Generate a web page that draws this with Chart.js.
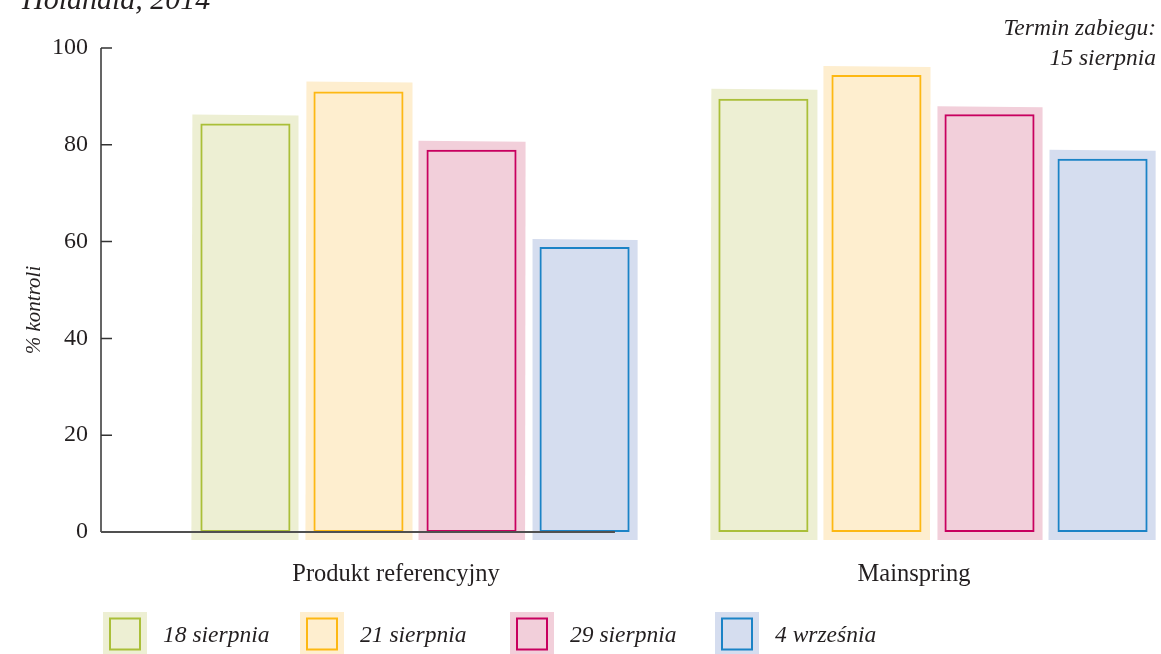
<!DOCTYPE html>
<html>
<head>
<meta charset="utf-8">
<script src="https://cdn.jsdelivr.net/npm/chart.js@4.4.1/dist/chart.umd.min.js"></script>
<style>
  body { margin: 0; background: #fff; }
  #wrap { width: 1161px; height: 654px; position: relative; }
</style>
</head>
<body>
<div id="wrap"><canvas id="myChart"></canvas></div>
<script>
// data
const groups = ['Produkt referencyjny', 'Mainspring'];
const seriesNames = ['18 sierpnia', '21 sierpnia', '29 sierpnia', '4 września'];
const sierpnia18 = [84.4, 89.5];
const sierpnia21 = [91.0, 94.4];
const sierpnia29 = [79.0, 86.3];
const wrzesnia4 = [58.9, 77.1];
const yTicks = [0, 20, 40, 60, 80, 100];

const series = [sierpnia18, sierpnia21, sierpnia29, wrzesnia4];
const lineColors = ['#aabf38', '#fdb813', '#c8005f', '#1b83c6'];
const fillColors = ['#edefd3', '#feeecf', '#f2cfda', '#d5ddef'];
const textColor = '#231f20';
const serif = 'Liberation Serif';

// slightly uneven "hand painted" backdrop offsets: [tlx, tly, trx, try, brx, bry, blx, bly]
const rough = [
  [-8, -9, 8, -8, 8, 8, -9, 8],
  [-7, -10, 9, -9, 9, 8, -8, 8],
  [-8, -9, 9, -8, 8.5, 8, -8, 8],
  [-7, -8, 8, -7, 8, 8, -7, 8]
];

const backdrop = {
  id: 'backdrop',
  beforeDatasetsDraw(chart) {
    const ctx = chart.ctx;
    chart.data.datasets.forEach((ds, i) => {
      const meta = chart.getDatasetMeta(i);
      meta.data.forEach((bar, j) => {
        const r = rough[(i + j) % rough.length];
        const l = bar.x - bar.width / 2, rt = bar.x + bar.width / 2;
        ctx.save();
        ctx.fillStyle = fillColors[i];
        ctx.beginPath();
        ctx.moveTo(l + r[0], bar.y + r[1]);
        ctx.lineTo(rt + r[2], bar.y + r[3]);
        ctx.lineTo(rt + r[4], bar.base + r[5]);
        ctx.lineTo(l + r[6], bar.base + r[7]);
        ctx.closePath();
        ctx.fill();
        ctx.restore();
      });
    });
  }
};

// axis end along x, in x-scale units (the base line stops under the first group)
const axisEnd = 0.386;

const axes = {
  id: 'axes',
  afterDatasetsDraw(chart) {
    const ctx = chart.ctx, area = chart.chartArea;
    const ys = chart.scales.y, xs = chart.scales.x;
    ctx.save();
    ctx.strokeStyle = '#333';
    ctx.lineWidth = 1.5;
    ctx.beginPath();
    ctx.moveTo(area.left, ys.getPixelForValue(100));
    ctx.lineTo(area.left, ys.getPixelForValue(0));
    yTicks.forEach(v => {
      if (v === 0) return;
      const py = ys.getPixelForValue(v);
      ctx.moveTo(area.left, py);
      ctx.lineTo(area.left + 11, py);
    });
    ctx.stroke();
    ctx.strokeStyle = '#505050';
    ctx.lineWidth = 2;
    ctx.beginPath();
    ctx.moveTo(area.left, ys.getPixelForValue(0));
    ctx.lineTo(xs.getPixelForValue(axisEnd), ys.getPixelForValue(0));
    ctx.stroke();
    ctx.restore();
  }
};

const legendX = [103, 300, 510, 715];

const texts = {
  id: 'texts',
  afterDraw(chart) {
    const ctx = chart.ctx;
    ctx.save();
    ctx.fillStyle = textColor;
    ctx.textBaseline = 'alphabetic';
    // title (cut off by the top edge)
    ctx.font = 'italic 30px "' + serif + '"';
    ctx.textAlign = 'left';
    ctx.fillText('Holandia, 2014', 22, 9);
    // note in the corner
    ctx.font = 'italic 23.5px "' + serif + '"';
    ctx.textAlign = 'right';
    ctx.fillText('Termin zabiegu:', 1156, 35);
    ctx.fillText('15 sierpnia', 1156, 65);
    // y title
    ctx.save();
    ctx.translate(40, 310);
    ctx.rotate(-Math.PI / 2);
    ctx.textAlign = 'center';
    ctx.font = 'italic 21px "' + serif + '"';
    ctx.fillText('% kontroli', 0, 0);
    ctx.restore();
    // legend
    seriesNames.forEach((name, i) => {
      const x = legendX[i];
      ctx.fillStyle = fillColors[i];
      ctx.fillRect(x, 612, 44, 42);
      ctx.strokeStyle = lineColors[i];
      ctx.lineWidth = 2;
      ctx.strokeRect(x + 7, 618.5, 30, 31);
      ctx.fillStyle = textColor;
      ctx.textAlign = 'left';
      ctx.font = 'italic 23.5px "' + serif + '"';
      ctx.fillText(name, x + 60, 642);
    });
    ctx.restore();
  }
};

new Chart('myChart', {
  type: 'bar',
  data: {
    datasets: series.map((vals, i) => ({
      label: seriesNames[i],
      data: vals.map((v, j) => ({ x: j, y: v })),
      backgroundColor: 'rgba(0,0,0,0)',
      borderColor: lineColors[i],
      borderWidth: 2,
      borderSkipped: false,
      categoryPercentage: 0.873,
      barPercentage: 0.797
    }))
  },
  options: {
    responsive: true,
    maintainAspectRatio: false,
    animation: false,
    layout: { padding: { left: 0, right: 0, top: 48, bottom: 62 } },
    plugins: {
      legend: { display: false },
      tooltip: { enabled: false }
    },
    scales: {
      x: {
        type: 'linear',
        offset: false,
        min: -0.6062,
        max: 1.4402,
        grid: { display: false, drawTicks: false },
        border: { display: false },
        afterBuildTicks: s => { s.ticks = groups.map((g, i) => ({ value: i })); },
        afterFit: s => { s.height = 60; },
        ticks: {
          padding: 28,
          labelOffset: -19,
          color: textColor,
          font: { family: serif, size: 24.5 },
          callback: v => groups[v] ?? ''
        }
      },
      y: {
        min: 0,
        max: 100,
        grid: { display: false, drawTicks: false },
        border: { display: false },
        afterBuildTicks: s => { s.ticks = yTicks.map(v => ({ value: v })); },
        afterFit: s => { s.width = 101; },
        ticks: {
          padding: 13,
          color: textColor,
          font: { family: serif, size: 24 }
        }
      }
    }
  },
  plugins: [backdrop, axes, texts]
});
</script>
</body>
</html>
